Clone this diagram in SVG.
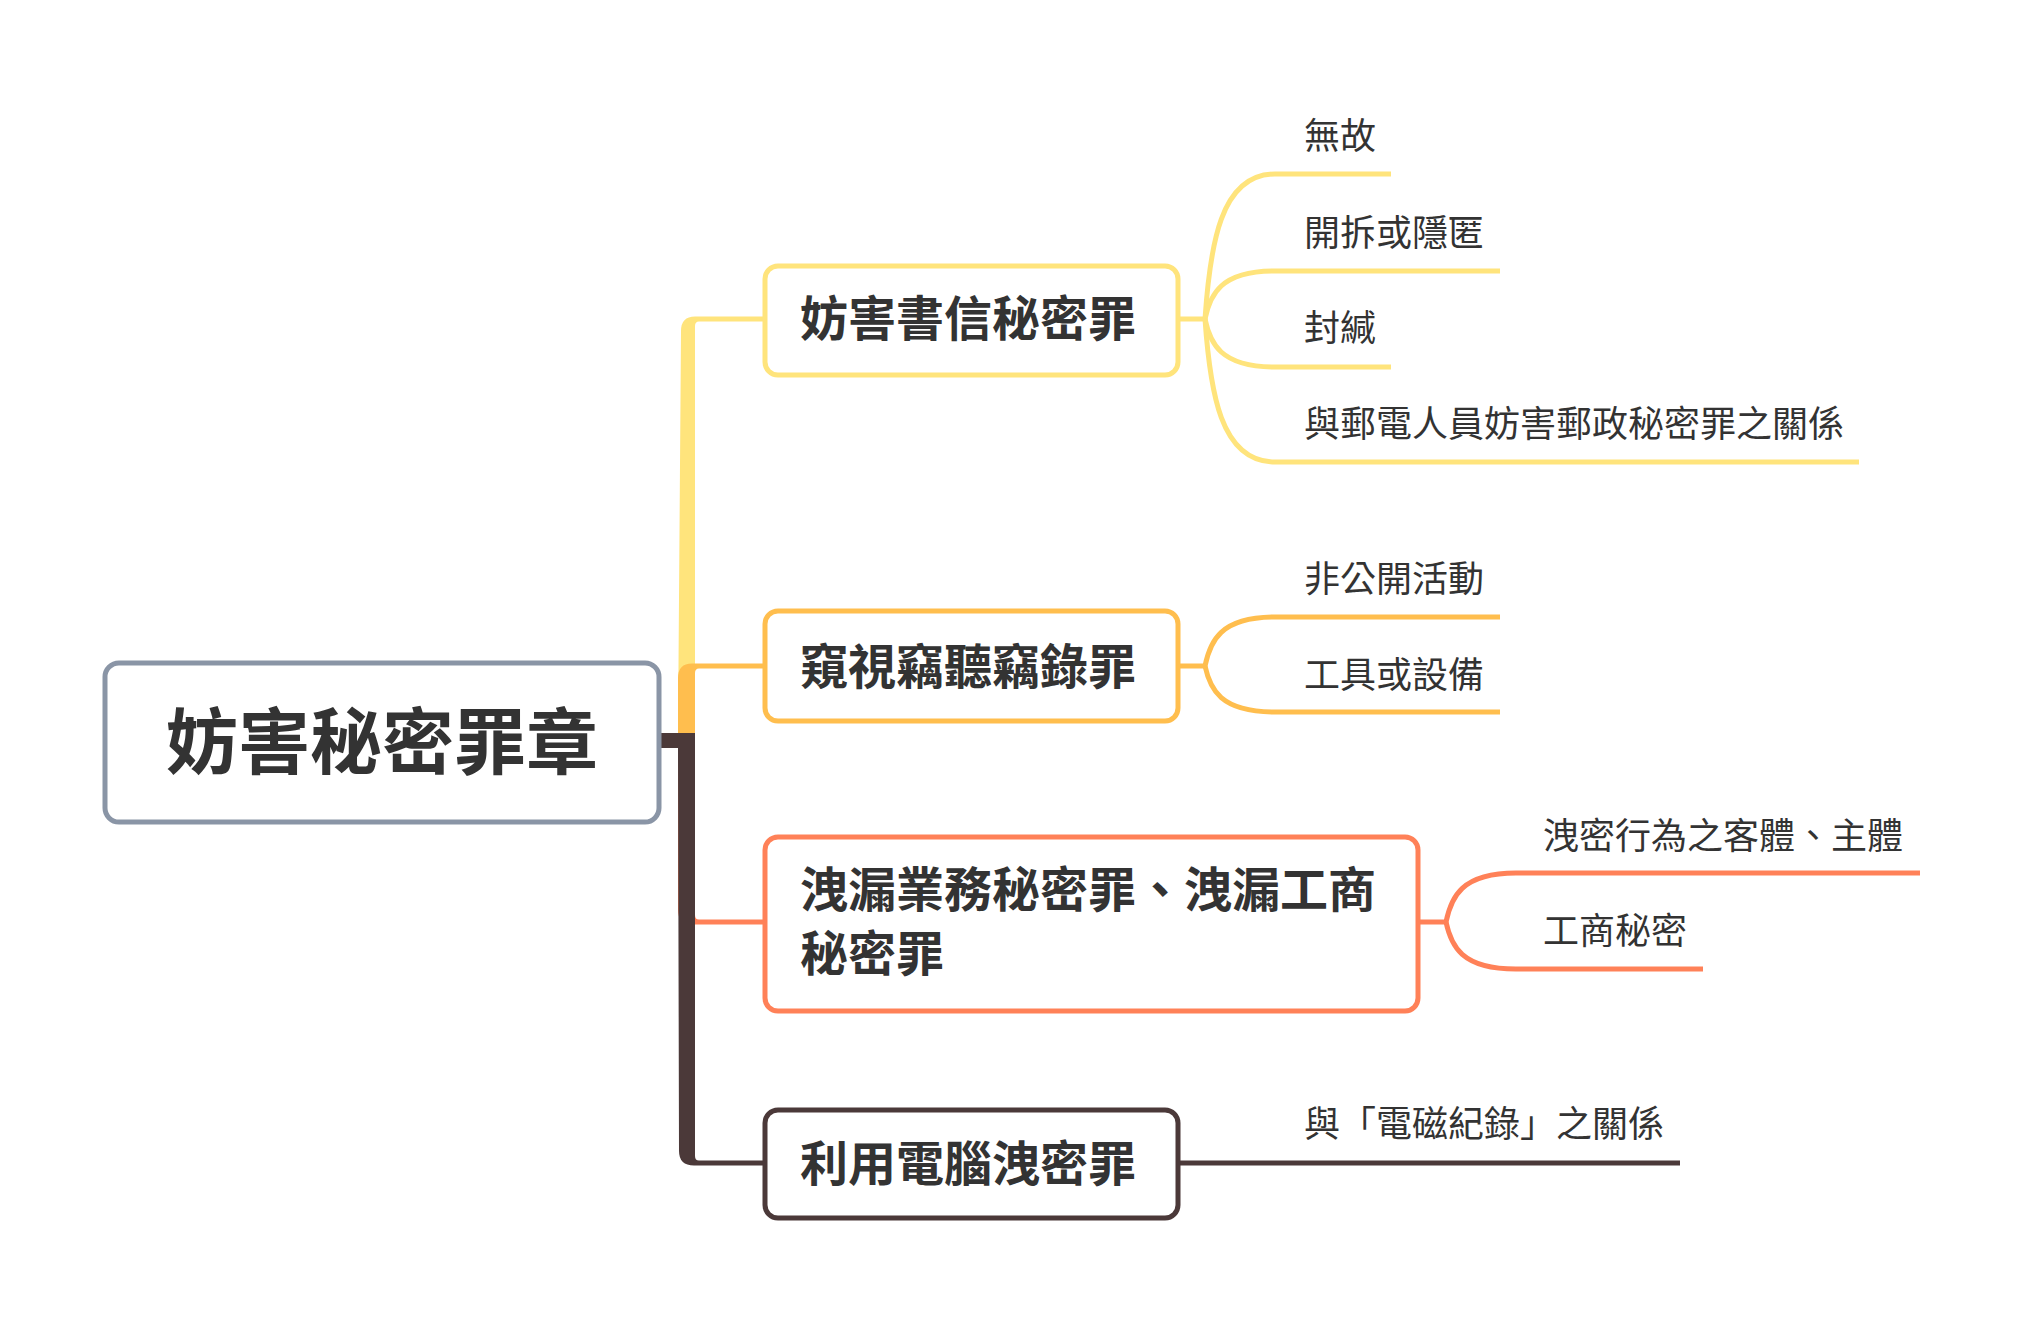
<svg xmlns="http://www.w3.org/2000/svg" width="2020" height="1322" viewBox="0 0 2020 1322">
<style>
.box{fill:#fff;stroke-width:5}
.bt{font-family:"Noto Sans CJK TC","Noto Sans CJK SC",sans-serif;font-weight:700;font-size:48px;fill:#333}
.rt{font-family:"Noto Sans CJK TC","Noto Sans CJK SC",sans-serif;font-weight:700;font-size:72px;fill:#333}
.st{font-family:"Noto Sans CJK TC","Noto Sans CJK SC",sans-serif;font-size:36px;fill:#333}
.sub{fill:none;stroke-width:5}
</style>
<rect width="2020" height="1322" fill="#fff"/>
<g id="connectors">
<path fill="#FFE47C" d="M 650 733 L 678 733 L 681 331 Q 681 316.5 695 316.5 L 766 316.5 L 766 321.5 L 699 321.5 Q 695 321.5 695 326 L 695 748 L 650 748 Z"/>
<path fill="#FFBE4E" d="M 650 733 L 678 733 L 678 678 Q 678 663.5 692 663.5 L 766 663.5 L 766 668.5 L 699 668.5 Q 695 668.5 695 673 L 695 748 L 650 748 Z"/>
<path fill="#FF8158" d="M 650 733 L 695 733 L 695 915 Q 695 919.5 699 919.5 L 766 919.5 L 766 924.5 L 692 924.5 Q 678 924.5 678 910 L 678 748 L 650 748 Z"/>
<path fill="#4B3939" d="M 650 733 L 695 733 L 695 1156 Q 695 1160.5 699 1160.5 L 766 1160.5 L 766 1165.5 L 694 1165.5 Q 679 1165.5 679 1151 L 678 748 L 650 748 Z"/>
<g stroke="#FFE47C" class="sub">
<path class="sub" d="M 1178 319 L 1205 319 C 1210 246.5 1220 174 1275 174 L 1391 174"/>
<path class="sub" d="M 1205 319 C 1210 295 1220 271 1275 271 L 1500 271"/>
<path class="sub" d="M 1205 319 C 1210 343 1220 367 1275 367 L 1391 367"/>
<path class="sub" d="M 1205 319 C 1210 390.5 1220 462 1275 462 L 1859 462"/>
</g>
<g stroke="#FFBE4E" class="sub">
<path class="sub" d="M 1178 666 L 1205 666 C 1210 641.5 1220 617 1275 617 L 1500 617"/>
<path class="sub" d="M 1205 666 C 1210 689 1220 712 1275 712 L 1500 712"/>
</g>
<g stroke="#FF8158" class="sub">
<path class="sub" d="M 1418 922 L 1446 922 C 1451 897.5 1461 873 1516 873 L 1920 873"/>
<path class="sub" d="M 1446 922 C 1451 945.5 1461 969 1516 969 L 1703 969"/>
</g>
<path class="sub" stroke="#4B3939" d="M 1178 1163 L 1680 1163"/>
</g>
<g id="root">
<rect class="box" x="105" y="663" width="554" height="159" rx="14" stroke="#8A95A6"/>
<text class="rt" x="382" y="768" text-anchor="middle">妨害秘密罪章</text>
</g>
<g id="n1">
<rect class="box" x="765" y="266" width="413" height="109" rx="13" stroke="#FFE47C"/>
<text class="bt" x="800" y="336">妨害書信秘密罪</text>
</g>
<g id="n2">
<rect class="box" x="765" y="611" width="413" height="110" rx="13" stroke="#FFBE4E"/>
<text class="bt" x="800" y="684">窺視竊聽竊錄罪</text>
</g>
<g id="n3">
<rect class="box" x="765" y="837" width="653" height="174" rx="13" stroke="#FF8158"/>
<text class="bt" x="800" y="907">洩漏業務秘密罪、洩漏工商</text>
<text class="bt" x="800" y="971">秘密罪</text>
</g>
<g id="n4">
<rect class="box" x="765" y="1110" width="413" height="108" rx="13" stroke="#4B3939"/>
<text class="bt" x="800" y="1181">利用電腦洩密罪</text>
</g>
<g id="s1"><text class="st" x="1304" y="149">無故</text></g>
<g id="s2"><text class="st" x="1304" y="246">開拆或隱匿</text></g>
<g id="s3"><text class="st" x="1304" y="341">封緘</text></g>
<g id="s4"><text class="st" x="1304" y="437">與郵電人員妨害郵政秘密罪之關係</text></g>
<g id="s5"><text class="st" x="1304" y="592">非公開活動</text></g>
<g id="s6"><text class="st" x="1304" y="688">工具或設備</text></g>
<g id="s7"><text class="st" x="1543" y="849">洩密行為之客體、主體</text></g>
<g id="s8"><text class="st" x="1543" y="944">工商秘密</text></g>
<g id="s9"><text class="st" x="1304" y="1137">與「電磁紀錄」之關係</text></g>
</svg>
